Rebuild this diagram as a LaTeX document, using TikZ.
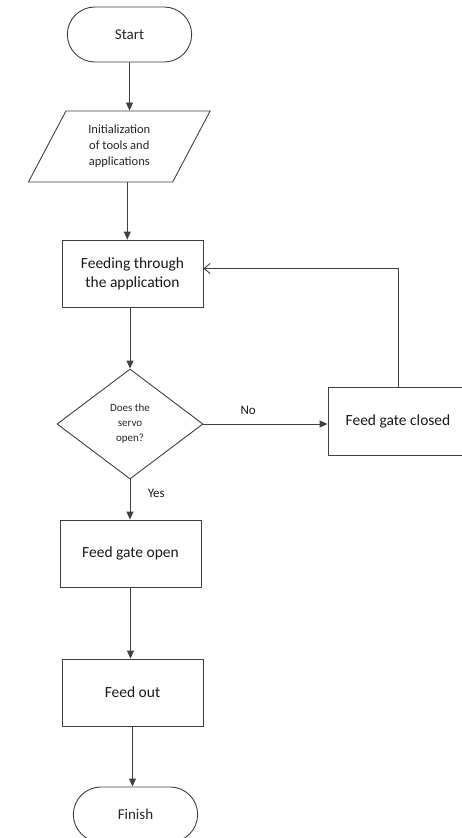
\documentclass[tikz,border=0pt]{standalone}
\usepackage{fontspec}
\setmainfont{Carlito}
\usetikzlibrary{positioning,calc,arrows.meta,shapes.geometric,shapes.misc}
\tikzset{>=Stealth}
\tikzset{
  line/.style={draw=black!75,line width=0.9pt},
  term/.style={line,rounded rectangle,minimum width=131pt,minimum height=55pt,font=\fontsize{15}{18}\selectfont,text=black!85},
  io/.style={line,trapezium,trapezium left angle=64,trapezium right angle=116,trapezium stretches=true,minimum width=182pt,minimum height=71pt,align=center,font=\fontsize{12.5}{16}\selectfont,text=black!85},
  proc/.style={line,rectangle,minimum width=141pt,minimum height=67pt,align=center,font=\fontsize{15.5}{19}\selectfont,text=black!90},
  decision/.style={line,diamond,inner sep=0pt,minimum width=146pt,minimum height=110pt,align=center,font=\fontsize{11}{15}\selectfont,text=black!85},
  flow/.style={line,->,>={Triangle[length=8pt,width=7pt]}},
  lbl/.style={font=\fontsize{13}{15}\selectfont,text=black!90}
}

\begin{document}
\begin{tikzpicture}[x=1pt,y=-1pt]
\useasboundingbox (0,0) rectangle (462,838);
\node[term] (start) at (129.5,34.5) {Start};
\node[io] (init) at (119.3,146.5) {Initialization\\of tools and\\applications};
\node[proc] (feed) at (132.5,273.5) {Feeding through\\the application};
\node[decision] (servo) at (130,424) {Does the\\servo\\open?};
\node[proc,minimum width=140pt,minimum height=68pt] (closed) at (398,421) {Feed gate closed};
\node[proc] (open) at (130.5,553.5) {Feed gate open};
\node[proc] (out) at (132.5,692.5) {Feed out};
\node[term] (finish) at (135.5,814.5) {Finish};

\draw[flow] (start.south) -- (start.south |- init.north);
\draw[flow] ([xshift=8pt]init.south) -- ([xshift=8pt]init.south |- feed.north);
\draw[flow] (feed.south -| servo.north) -- (servo.north);
\draw[flow] (servo.east) -- node[lbl,above=6pt,pos=0.36] {No} (servo.east -| closed.west);
\draw[line,->,>={Straight Barb[length=6pt,width=10pt]}] (closed.north) |- ([yshift=5pt]feed.east);
\draw[flow] (servo.south) -- node[lbl,right=14pt,pos=0.35] {Yes} (servo.south |- open.north);
\draw[flow] (open.south) -- (open.south |- out.north);
\draw[flow] (out.south) -- (out.south |- finish.north);
\end{tikzpicture}
\end{document}
